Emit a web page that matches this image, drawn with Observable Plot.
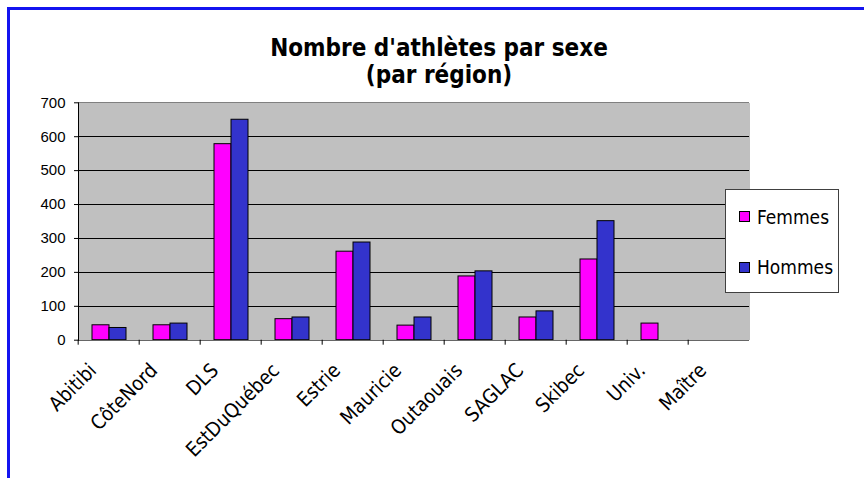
<!DOCTYPE html>
<html>
<head>
<meta charset="utf-8">
<script src="https://cdn.jsdelivr.net/npm/d3@7"></script>
<script src="https://cdn.jsdelivr.net/npm/@observablehq/plot@0.6"></script>
<style>
  html, body { margin: 0; padding: 0; background: #fff; }
  #wrap { position: relative; width: 864px; height: 478px; overflow: hidden; background: #fff; }
  #border { position: absolute; left: 7px; top: 7px; width: 880px; height: 500px;
            border-top: 3px solid #1414f0; border-left: 3px solid #1414f0; }
  #title { position: absolute; left: 7px; width: 864px; top: 35px; text-align: center;
           font-family: "DejaVu Sans Condensed", "DejaVu Sans", sans-serif; font-stretch: condensed;
           font-weight: bold; font-size: 24px; line-height: 27px; color: #000; }
  #chart { position: absolute; left: 0; top: 95px; }
  #legend { position: absolute; left: 725px; top: 189px; width: 112px; height: 102px;
            border: 1px solid #404040; background: #fff; }
  .sw { position: absolute; left: 13px; width: 9px; height: 9px; border: 1px solid #000; }
  .lt { position: absolute; left: 31px; font-family: "DejaVu Sans Condensed", "DejaVu Sans", sans-serif;
        font-stretch: condensed; font-size: 19px; line-height: 19px; color: #000; white-space: nowrap; }
</style>
</head>
<body>
<div id="wrap">
  <div id="border"></div>
  <div id="title">Nombre d'athlètes par sexe<br>(par région)</div>
  <div id="chart"></div>
  <div id="legend"></div>
</div>
<script>
// ---- data ----
const regions = ["Abitibi", "CôteNord", "DLS", "EstDuQuébec", "Estrie", "Mauricie", "Outaouais", "SAGLAC", "Skibec", "Univ.", "Maître"];
const femmes = [44, 44, 578, 62, 261, 43, 188, 67, 238, 49, 0];
const hommes = [36, 49, 650, 67, 288, 67, 203, 85, 351, 0, 0];
const sexes = ["Femmes", "Hommes"];
const colors = ["#ff00ff", "#3333cc"];
const yTicks = [0, 100, 200, 300, 400, 500, 600, 700];

// ---- table ----
const data = regions.flatMap((r, i) => [
  {region: r, sexe: sexes[0], n: femmes[i]},
  {region: r, sexe: sexes[1], n: hommes[i]}
]);

const W = 864, H = 383;
const mL = 74, mR = 112, mT = 7.3, mB = 138.3;
const step = (W - mL - mR) / regions.length;
const labelFont = "'DejaVu Sans Condensed', 'DejaVu Sans', sans-serif";

const chart = Plot.plot({
  width: W, height: H,
  marginLeft: mL, marginRight: mR, marginTop: mT, marginBottom: mB,
  style: {background: "transparent", overflow: "visible", fontFamily: "'Liberation Sans', Arial, sans-serif"},
  fx: {domain: regions, padding: 0, label: null},
  x: {domain: sexes, paddingInner: 0, paddingOuter: 0.75, axis: null},
  y: {domain: [0, 700]},
  color: {domain: sexes, range: colors},
  marks: [
    Plot.frame({fill: "#c0c0c0", stroke: "none", shapeRendering: "crispEdges"}),
    Plot.ruleY(yTicks.slice(1, -1), {stroke: "#000", shapeRendering: "crispEdges"}),
    Plot.ruleY([700], {stroke: "#808080", shapeRendering: "crispEdges"}),
    Plot.barY(data, {fx: "region", x: "sexe", y: "n", fill: "sexe", stroke: "#000",
      strokeOpacity: d => (d.n > 0 ? 1 : 0), strokeWidth: 1, inset: 0}),
    Plot.ruleY([0], {stroke: "#666", shapeRendering: "crispEdges"}),
    Plot.frame({anchor: "left", stroke: "#000", facetAnchor: "left"}),
    Plot.axisY(yTicks, {tickSize: 4, tickPadding: 9, fontSize: 15, label: null}),
    Plot.axisFx({anchor: "bottom", tickSize: 0, tickRotate: -45, tickPadding: 27, dx: -16,
      fontSize: 20, fontFamily: labelFont, label: null}),
    Plot.axisFx({anchor: "bottom", tickSize: 5, tickFormat: () => "", dx: -step / 2, label: null})
  ]
});
document.getElementById("chart").appendChild(chart);

// ---- legend ----
const legend = document.getElementById("legend");
sexes.forEach((s, i) => {
  const sw = document.createElement("div");
  sw.className = "sw";
  sw.style.top = (21 + i * 50.7) + "px";
  sw.style.background = colors[i];
  legend.appendChild(sw);
  const t = document.createElement("div");
  t.className = "lt";
  t.style.top = (18 + i * 50) + "px";
  t.textContent = s;
  legend.appendChild(t);
});
</script>
</body>
</html>
